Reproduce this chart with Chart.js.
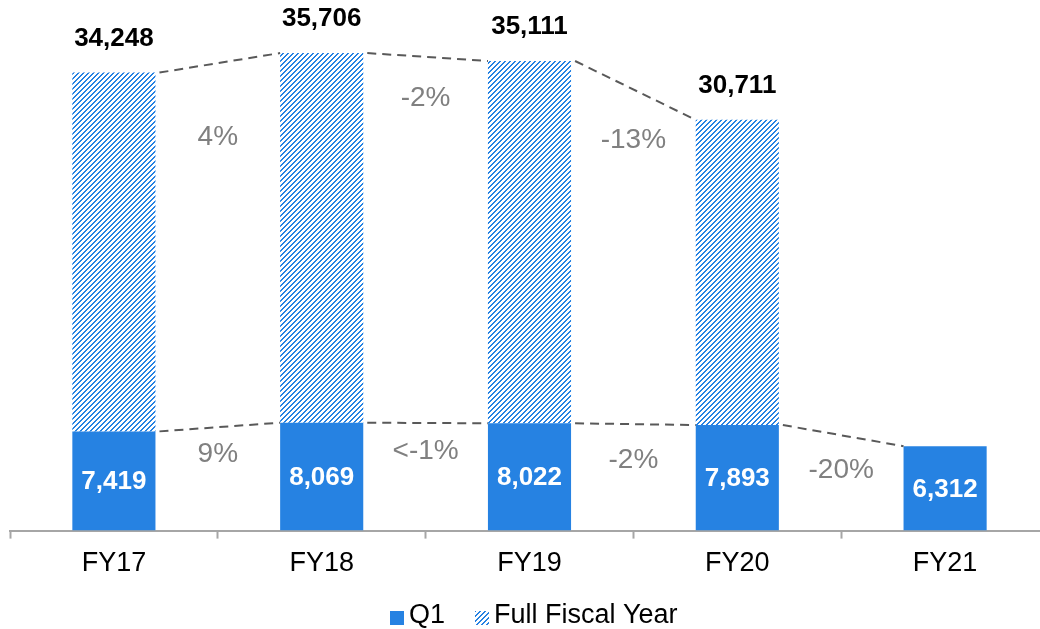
<!DOCTYPE html>
<html>
<head>
<meta charset="utf-8">
<script src="https://cdn.jsdelivr.net/npm/chart.js@4.4.0/dist/chart.umd.min.js"></script>
<style>
    html, body { margin: 0; padding: 0; background: #fff; overflow: hidden; }
    #wrap { width: 1049px; height: 629px; }
</style>
</head>
<body>
<div id="wrap"><canvas id="salesChart"></canvas></div>
<script>
// ========== Data ==========
const categories = ["FY17", "FY18", "FY19", "FY20", "FY21"];
const q1Values = [7419, 8069, 8022, 7893, 6312];
const fullYearValues = [34248, 35706, 35111, 30711, null];
const fullYearChange = ["4%", "-2%", "-13%"];
const q1Change = ["9%", "<-1%", "-2%", "-20%"];

const BLUE = "rgb(38, 130, 226)";
const FONT = "'Liberation Sans', Arial, sans-serif";

// hatched pattern ("/" stripes, 2px wide every 5px) for the full fiscal year part
function makeHatch() {
    const s = 5;
    const c = document.createElement("canvas");
    c.width = s; c.height = s;
    const g = c.getContext("2d");
    g.fillStyle = BLUE;
    for (let y = 0; y < s; y++) {
        for (let x = 0; x < s; x++) {
            if ((x + y) % s < 2) g.fillRect(x, y, 1, 1);
        }
    }
    return g.createPattern(c, "repeat");
}

// remainder stacked on top of Q1 so the top of the stack = full year value
const restOfYear = fullYearValues.map((v, i) => v == null ? null : v - q1Values[i]);

// ========== Plugin: labels, dashed lines, % changes, legend ==========
const annotate = {
    id: "annotate",
    afterDatasetsDraw(chart, args, opts) {
        const ctx = chart.ctx;
        const q1Meta = chart.getDatasetMeta(0).data;
        const fyMeta = chart.getDatasetMeta(1).data;

        ctx.save();
        ctx.textAlign = "center";
        ctx.textBaseline = "middle";

        // dashed connectors
        ctx.strokeStyle = "#595959";
        ctx.lineWidth = 2;
        ctx.setLineDash([9, 6]);
        function connect(bars, count) {
            for (let i = 0; i < count; i++) {
                const a = bars[i], b = bars[i + 1];
                ctx.beginPath();
                ctx.moveTo(a.x + a.width / 2 + 4, a.y);
                ctx.lineTo(b.x - b.width / 2, b.y);
                ctx.stroke();
            }
        }
        connect(fyMeta, fullYearChange.length);
        connect(q1Meta, q1Change.length);
        ctx.setLineDash([]);

        // Q1 values inside bars
        ctx.font = "bold 26px " + FONT;
        ctx.fillStyle = "#fff";
        q1Meta.forEach((bar, i) => {
            ctx.fillText(q1Values[i].toLocaleString("en-US"), bar.x, (bar.y + bar.base) / 2 + 1);
        });

        // full year values above bars
        ctx.fillStyle = "#000";
        fyMeta.forEach((bar, i) => {
            if (fullYearValues[i] == null) return;
            ctx.fillText(fullYearValues[i].toLocaleString("en-US"), bar.x, bar.y - 34);
        });

        // percentage changes
        ctx.font = "28px " + FONT;
        ctx.fillStyle = "#808080";
        function pct(bars, texts, offsets) {
            texts.forEach((t, i) => {
                const a = bars[i], b = bars[i + 1];
                const x = (a.x + b.x) / 2;
                const y = (a.y + b.y) / 2 + offsets[i];
                ctx.fillText(t, x, y);
            });
        }
        pct(fyMeta, fullYearChange, opts.fyOffsets);
        pct(q1Meta, q1Change, opts.q1Offsets);
        ctx.restore();
    },
    afterDraw(chart, args, opts) {
        // legend at the bottom, drawn from the datasets
        const ctx = chart.ctx;
        const box = 14, gapText = 5, gapItem = 30;
        ctx.save();
        ctx.font = "27px " + FONT;
        ctx.textBaseline = "middle";
        ctx.textAlign = "left";
        const items = chart.data.datasets.map(ds => ({
            text: ds.label, fill: ds.backgroundColor,
            w: box + gapText + ctx.measureText(ds.label).width
        }));
        const total = items.reduce((s, it) => s + it.w, 0) + gapItem * (items.length - 1);
        let x = Math.round(opts.legendX - total / 2);
        const y = opts.legendY;
        items.forEach(it => {
            ctx.fillStyle = it.fill;
            ctx.fillRect(x, y - box / 2 + 2, box, box);
            ctx.fillStyle = "#000";
            ctx.fillText(it.text, x + box + gapText, y);
            x += Math.round(it.w + gapItem);
        });
        ctx.restore();
    }
};

Chart.defaults.font.family = FONT;
Chart.defaults.color = "#000";

new Chart(document.getElementById("salesChart"), {
    type: "bar",
    data: {
        labels: categories,
        datasets: [{
            label: "Q1",
            data: q1Values,
            backgroundColor: BLUE,
            borderWidth: 0,
        }, {
            label: "Full Fiscal Year",
            data: restOfYear,
            backgroundColor: makeHatch(),
            borderWidth: 0,
        }]
    },
    options: {
        responsive: true,
        maintainAspectRatio: false,
        animation: false,
        categoryPercentage: 1,
        barPercentage: 0.4,
        layout: { padding: { top: 9, left: 10, right: 0, bottom: 40 } },
        scales: {
            x: {
                stacked: true,
                border: { display: true, color: "#a6a6a6", width: 2 },
                grid: {
                    display: true,
                    offset: true,
                    drawOnChartArea: false,
                    drawTicks: true,
                    tickLength: 8,
                    tickWidth: 2,
                    tickColor: "#a6a6a6",
                },
                ticks: { font: { size: 27 }, color: "#000", padding: 9 },
            },
            y: {
                stacked: true,
                display: false,
                min: 0,
                max: 39000,
            },
        },
        plugins: {
            legend: { display: false },
            tooltip: { enabled: false },
            annotate: {
                fyOffsets: [74, 41, 50],
                q1Offsets: [27, 28, 36, 35],
                legendX: 534,
                legendY: 616,
            },
        },
    },
    plugins: [annotate],
});
</script>
</body>
</html>
